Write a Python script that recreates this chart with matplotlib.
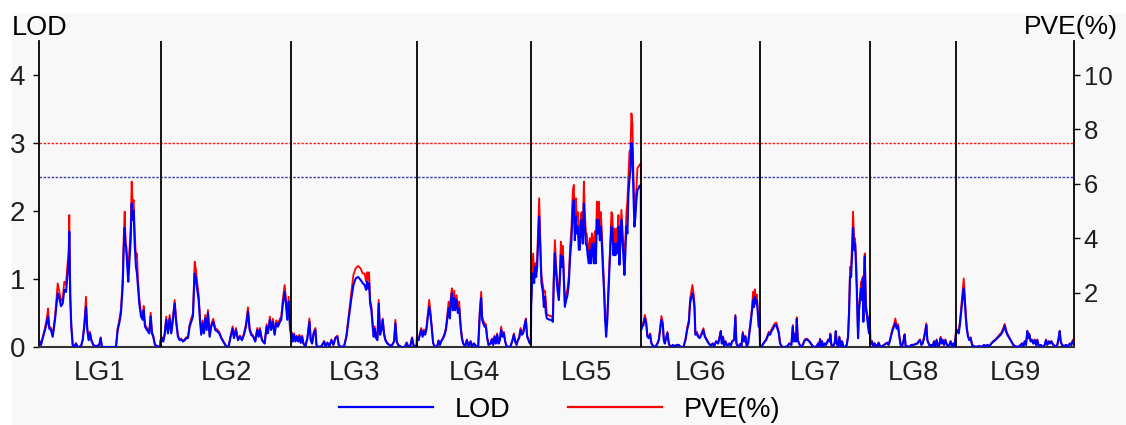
import numpy as np
import matplotlib
matplotlib.use("Agg")
import matplotlib.pyplot as plt
from matplotlib.patches import Rectangle
from matplotlib.lines import Line2D

plt.rcParams["font.family"] = ["Liberation Sans", "DejaVu Sans"]

# linkage groups and their lengths (cM)
lg_names = ["LG1", "LG2", "LG3", "LG4", "LG5", "LG6", "LG7", "LG8", "LG9"]
lg_lengths = [122, 130.5, 125.5, 114.3, 110, 119, 110.3, 85.7, 118]

# thresholds (LOD)
thr_red = 3.0
thr_blue = 2.5

# LG1
lg1_cm = [0, 2, 3.7, 6, 8, 9, 10.3, 12, 13.7, 16, 18.7, 20.3, 22, 23.7, 25.3, 27, 28.7, 29.7, 30.3, 31.3,
          32.3, 33.7, 35.3, 37, 38.7, 42, 43.7, 45.3, 47, 48.3, 49.7, 51, 52.3, 54.3, 57, 60.3, 61.7, 63, 77, 78.7,
          80.3, 82, 83.7, 84.7, 85.7, 86.3, 87.3, 88.3, 89.3, 90.3, 91.7, 92.7, 93.7, 94.7, 95.7, 97, 98, 99, 100.3, 102,
          103.7, 104.7, 106, 108, 110.3, 111.7, 113, 114.3, 116, 118.7, 121, 121.8]
lg1_lod = [0.10, 0.03, 0.13, 0.25, 0.37, 0.45, 0.27, 0.25, 0.15, 0.40, 0.79, 0.72, 0.60, 0.64, 0.84, 0.81, 1.08, 1.28, 1.70, 0.69,
           0.30, 0.03, 0.00, 0.05, 0.00, 0.01, 0.10, 0.30, 0.59, 0.25, 0.10, 0.20, 0.10, 0.03, 0.01, 0.03, 0.13, 0.00, 0.00, 0.25,
           0.35, 0.50, 0.89, 1.43, 1.75, 1.52, 1.47, 1.18, 0.96, 1.23, 1.57, 2.11, 1.87, 2.01, 1.52, 1.18, 1.08, 0.89, 0.64, 0.45,
           0.40, 0.54, 0.30, 0.25, 0.20, 0.45, 0.20, 0.15, 0.03, 0.01, 0.00, 0.10]
lg1_pve = [0.28, 0.08, 0.36, 0.70, 1.10, 1.42, 0.76, 0.70, 0.42, 1.12, 2.34, 2.05, 1.70, 1.80, 2.40, 2.30, 3.14, 3.50, 4.85, 1.95,
           0.84, 0.08, 0.00, 0.14, 0.00, 0.03, 0.28, 0.84, 1.85, 0.70, 0.28, 0.56, 0.28, 0.08, 0.03, 0.08, 0.36, 0.00, 0.00, 0.70,
           0.98, 1.40, 2.50, 4.00, 4.98, 4.25, 3.50, 3.30, 2.70, 3.45, 4.40, 6.08, 5.25, 5.40, 4.25, 3.30, 3.44, 2.50, 1.80, 1.26,
           1.12, 1.51, 0.84, 0.70, 0.56, 1.26, 0.56, 0.42, 0.08, 0.03, 0.00, 0.28]

# LG2
lg2_cm = [0, 1, 2.3, 3.7, 5.3, 7, 8.7, 10.3, 12, 13.7, 15.3, 17, 18.7, 20.3, 22, 23.7, 25.3, 27, 28.7, 30.3,
          32, 33.7, 35, 36.3, 37.7, 39, 40.3, 41.7, 43, 44.3, 45.7, 47, 48.7, 50.3, 52.3, 54.3, 56.3, 58.3, 60.3, 62.3,
          64.3, 66.3, 67.7, 69.7, 71.7, 73, 75, 77, 79, 81, 83, 85, 87, 88.7, 90.3, 92.3, 94.3, 96.3, 97.7, 99,
          101, 103.7, 105.7, 107, 109, 110.3, 112, 113.7, 115.3, 117, 119, 120.3, 122, 123.7, 125, 126.3, 127.7, 129, 130.3]
lg2_lod = [0.08, 0.13, 0.08, 0.18, 0.40, 0.20, 0.42, 0.20, 0.40, 0.64, 0.35, 0.15, 0.10, 0.11, 0.08, 0.10, 0.13, 0.13, 0.30, 0.37,
           0.45, 1.08, 1.01, 0.84, 0.69, 0.40, 0.18, 0.35, 0.20, 0.42, 0.25, 0.50, 0.15, 0.30, 0.37, 0.25, 0.23, 0.20, 0.13, 0.08,
           0.03, 0.00, 0.01, 0.15, 0.27, 0.13, 0.25, 0.10, 0.15, 0.10, 0.18, 0.30, 0.52, 0.25, 0.18, 0.15, 0.08, 0.25, 0.15, 0.25,
           0.10, 0.05, 0.30, 0.20, 0.40, 0.25, 0.37, 0.18, 0.35, 0.30, 0.37, 0.40, 0.64, 0.81, 0.64, 0.40, 0.67, 0.30, 0.15]
lg2_pve = [0.22, 0.36, 0.22, 0.50, 1.12, 0.56, 1.18, 0.56, 1.12, 1.73, 0.98, 0.42, 0.28, 0.31, 0.22, 0.28, 0.36, 0.36, 0.84, 1.04,
           1.26, 3.14, 2.85, 2.35, 1.93, 1.12, 0.50, 0.98, 0.56, 1.18, 0.70, 1.36, 0.42, 0.84, 1.04, 0.70, 0.64, 0.56, 0.36, 0.22,
           0.08, 0.00, 0.03, 0.42, 0.76, 0.36, 0.70, 0.28, 0.42, 0.28, 0.50, 0.84, 1.46, 0.70, 0.50, 0.42, 0.22, 0.70, 0.42, 0.70,
           0.28, 0.14, 0.84, 0.56, 1.12, 0.70, 1.04, 0.50, 0.98, 0.84, 1.04, 1.12, 1.79, 2.28, 1.79, 1.12, 1.85, 0.84, 0.42]

# LG3
lg3_cm = [0, 1.3, 2.7, 4, 5.3, 6.7, 8, 9.3, 10.7, 12, 14, 16, 18, 19.3, 20.7, 22.3, 24, 25, 26.7, 30,
          32.7, 34, 36, 38, 40, 42, 44, 46, 47.3, 49.3, 52.7, 55, 56.7, 58.7, 60, 62, 64.3, 66.7, 69, 71.3,
          73.3, 74.7, 75.7, 76.7, 77.7, 78.7, 80, 81.3, 82.3, 83.3, 84.7, 86, 87.3, 88.7, 90, 91.3, 92.7, 94, 96, 98,
          100, 102.7, 104, 105.3, 106.7, 110, 113.3, 115.3, 116.7, 118.7, 120.7, 122, 124, 125.3]
lg3_lod = [0.20, 0.08, 0.18, 0.08, 0.15, 0.08, 0.16, 0.06, 0.15, 0.05, 0.01, 0.13, 0.37, 0.10, 0.05, 0.20, 0.25, 0.03, 0.00, 0.01,
           0.08, 0.01, 0.06, 0.01, 0.10, 0.03, 0.13, 0.15, 0.03, 0.00, 0.01, 0.15, 0.35, 0.57, 0.72, 0.91, 1.01, 1.03, 0.99, 0.94,
           0.91, 0.84, 0.96, 0.86, 0.94, 0.64, 0.54, 0.30, 0.15, 0.27, 0.13, 0.10, 0.64, 0.18, 0.25, 0.40, 0.18, 0.10, 0.05, 0.03,
           0.01, 0.08, 0.35, 0.08, 0.03, 0.00, 0.00, 0.06, 0.01, 0.00, 0.13, 0.03, 0.00, 0.03]
lg3_pve = [0.56, 0.22, 0.50, 0.22, 0.42, 0.22, 0.45, 0.17, 0.42, 0.14, 0.03, 0.36, 1.05, 0.28, 0.14, 0.56, 0.70, 0.08, 0.00, 0.03,
           0.22, 0.03, 0.17, 0.03, 0.28, 0.08, 0.36, 0.42, 0.08, 0.00, 0.03, 0.42, 0.98, 1.60, 2.05, 2.65, 2.90, 2.98, 2.90, 2.70,
           2.70, 2.40, 2.75, 2.45, 2.75, 1.73, 1.51, 0.84, 0.42, 0.76, 0.36, 0.28, 1.73, 0.50, 0.70, 1.05, 0.50, 0.28, 0.14, 0.08,
           0.03, 0.22, 1.00, 0.22, 0.08, 0.00, 0.00, 0.17, 0.03, 0.00, 0.36, 0.08, 0.00, 0.08]

# LG4
lg4_cm = [0, 1.7, 3, 4.3, 5.7, 7, 8.3, 9.7, 11, 12.3, 13.7, 15, 16.3, 18.3, 20.3, 21.7, 23, 24.3, 26.3, 27.7,
          29, 30.3, 31.7, 33, 34, 35, 36, 37.3, 38.3, 39.7, 41, 42.3, 43.7, 45, 46.3, 48.3, 50, 51.7, 53.7, 55,
          57, 59.3, 61.3, 63, 64.3, 65.3, 66.3, 67.7, 69, 70.3, 71.7, 73.7, 75, 76.3, 77.7, 79, 80.3, 81.7, 83, 84.3,
          85.7, 87, 88.3, 89.7, 91.7, 93.7, 95.7, 97, 98.3, 99.7, 101, 102.3, 103.7, 105, 106.3, 107.7, 109, 110.3, 111.7, 113,
          114]
lg4_lod = [0.13, 0.10, 0.18, 0.25, 0.15, 0.23, 0.18, 0.27, 0.45, 0.59, 0.45, 0.25, 0.05, 0.00, 0.01, 0.09, 0.03, 0.08, 0.13, 0.18,
           0.25, 0.40, 0.57, 0.42, 0.67, 0.79, 0.54, 0.72, 0.54, 0.69, 0.50, 0.57, 0.30, 0.13, 0.05, 0.01, 0.10, 0.01, 0.08, 0.01,
           0.05, 0.01, 0.00, 0.50, 0.72, 0.40, 0.35, 0.30, 0.30, 0.13, 0.03, 0.05, 0.11, 0.03, 0.15, 0.05, 0.18, 0.05, 0.10, 0.25,
           0.15, 0.20, 0.08, 0.01, 0.00, 0.01, 0.10, 0.18, 0.08, 0.03, 0.10, 0.13, 0.25, 0.18, 0.20, 0.30, 0.40, 0.15, 0.10, 0.05,
           0.04]
lg4_pve = [0.36, 0.28, 0.50, 0.70, 0.42, 0.64, 0.50, 0.76, 1.26, 1.73, 1.26, 0.70, 0.14, 0.00, 0.03, 0.25, 0.08, 0.22, 0.36, 0.50,
           0.70, 1.12, 1.67, 1.18, 1.88, 2.16, 1.51, 2.07, 1.51, 1.91, 1.40, 1.67, 0.84, 0.36, 0.14, 0.03, 0.28, 0.03, 0.22, 0.03,
           0.14, 0.03, 0.00, 1.40, 2.03, 1.12, 0.98, 0.87, 0.84, 0.36, 0.08, 0.14, 0.31, 0.08, 0.42, 0.14, 0.50, 0.14, 0.28, 0.75,
           0.42, 0.56, 0.22, 0.03, 0.00, 0.03, 0.28, 0.50, 0.22, 0.08, 0.28, 0.36, 0.70, 0.50, 0.56, 0.84, 1.05, 0.42, 0.28, 0.14,
           0.11]

# LG5
lg5_cm = [0, 1, 2, 3, 4, 5, 6, 7, 8, 9, 10.3, 11.7, 12.7, 13.7, 14.7, 15.7, 17, 18.7, 20.3, 21.7,
          22.7, 23.7, 25, 26.3, 27.7, 28.7, 29.7, 30.7, 31.7, 32.7, 33.7, 35, 36.3, 37.7, 39, 40.3, 41.7, 42.7, 43.7, 44.7,
          45.7, 46.7, 47.7, 48.7, 49.7, 50.7, 51.7, 52.7, 53.7, 54.7, 55.7, 56.7, 57.7, 58.7, 59.7, 60.7, 61.7, 62.7, 63.7, 64.7,
          65.7, 66.7, 67.7, 68.7, 69.7, 70.7, 71.7, 73, 74, 75, 76, 77, 78.3, 79.3, 80.3, 81.3, 82.3, 83.3, 84.3, 85.3,
          86.3, 87.3, 88.3, 89.3, 90.3, 91.3, 92.3, 93.3, 94.3, 95.3, 96.3, 97.3, 98.3, 99.3, 100.3, 101.3, 102.3, 103.3, 104.3, 105.3,
          106.3, 107.3, 108.3, 109.7]
lg5_lod = [0.59, 0.99, 1.08, 0.94, 1.18, 1.03, 1.18, 1.57, 1.92, 1.48, 0.94, 0.81, 0.59, 0.74, 0.50, 0.42, 0.41, 0.40, 0.40, 0.37,
           0.99, 1.38, 1.08, 0.84, 0.69, 0.99, 1.35, 1.18, 1.33, 0.99, 0.59, 0.69, 0.76, 0.94, 1.33, 1.57, 2.06, 2.16, 1.57, 1.92,
           1.67, 1.77, 1.43, 1.43, 1.87, 1.77, 1.52, 2.11, 1.77, 1.52, 1.48, 1.33, 1.23, 1.43, 1.23, 1.52, 1.43, 1.23, 1.52, 1.23,
           1.87, 1.67, 1.87, 1.57, 1.77, 1.52, 1.18, 0.79, 0.40, 0.15, 0.35, 0.69, 1.13, 1.48, 1.77, 1.72, 1.35, 1.52, 1.35, 1.52,
           1.38, 1.77, 1.21, 1.57, 1.87, 1.57, 1.33, 1.06, 1.43, 1.77, 1.67, 2.26, 2.46, 2.60, 3.00, 2.90, 2.26, 1.77, 1.92, 2.16,
           2.31, 2.33, 2.37, 2.38]
lg5_pve = [1.65, 2.77, 3.44, 2.63, 3.08, 2.88, 3.30, 4.40, 5.47, 4.14, 2.63, 2.27, 2.03, 2.07, 1.73, 1.18, 1.18, 1.14, 1.14, 1.04,
           2.77, 3.93, 3.02, 2.35, 1.93, 2.77, 3.87, 3.30, 3.72, 2.77, 1.65, 1.93, 2.13, 2.63, 3.72, 4.40, 5.77, 5.96, 4.40, 5.47,
           4.68, 4.96, 4.00, 4.00, 4.91, 4.96, 4.26, 6.08, 4.96, 4.26, 4.14, 3.72, 3.44, 4.00, 3.44, 4.18, 4.00, 3.44, 4.26, 3.44,
           5.34, 4.68, 5.34, 4.40, 4.96, 4.26, 3.30, 2.21, 1.12, 0.75, 0.98, 1.93, 3.16, 4.14, 4.96, 4.85, 3.78, 4.36, 3.78, 4.36,
           3.86, 4.85, 3.39, 4.36, 5.04, 4.40, 3.72, 3.08, 4.00, 4.96, 5.40, 6.33, 7.18, 7.28, 8.59, 8.22, 6.33, 5.04, 5.38, 5.83,
           6.57, 6.63, 6.69, 6.75]

# LG6
lg6_cm = [0, 1, 2.3, 3.7, 5, 6.3, 7.7, 9, 10.3, 12.3, 14.3, 16.3, 17.7, 19, 20.3, 21.7, 22.7, 23.7, 25, 26.3,
          27.7, 29, 30.3, 31.7, 33.7, 35.7, 37.7, 39.7, 42.3, 44.3, 46.3, 47.7, 49, 50.3, 51.3, 52.3, 53.3, 54.3, 55.7, 57,
          58.7, 60.3, 62.3, 63.7, 65.7, 67.7, 69.7, 71.7, 73, 75, 77, 78.7, 79.7, 80.7, 82, 83, 84.3, 85.7, 87, 88.3,
          89.7, 91, 93, 94.3, 95.3, 97, 99, 100.3, 101.7, 103, 104.3, 105.7, 107, 108.3, 109.7, 111, 112, 113, 113.7, 114.7,
          115.7, 116.7, 117.7, 118.3]
lg6_lod = [0.25, 0.30, 0.32, 0.42, 0.35, 0.15, 0.13, 0.18, 0.05, 0.01, 0.00, 0.05, 0.10, 0.25, 0.40, 0.32, 0.10, 0.05, 0.13, 0.20,
           0.05, 0.01, 0.00, 0.03, 0.01, 0.03, 0.03, 0.00, 0.00, 0.10, 0.27, 0.35, 0.64, 0.74, 0.79, 0.72, 0.59, 0.18, 0.20, 0.15,
           0.13, 0.18, 0.25, 0.15, 0.10, 0.05, 0.02, 0.05, 0.01, 0.08, 0.05, 0.15, 0.23, 0.05, 0.14, 0.00, 0.08, 0.03, 0.03, 0.05,
           0.02, 0.08, 0.10, 0.45, 0.05, 0.00, 0.04, 0.01, 0.20, 0.08, 0.15, 0.01, 0.05, 0.20, 0.37, 0.54, 0.69, 0.59, 0.74, 0.64,
           0.69, 0.50, 0.30, 0.42]
lg6_pve = [0.70, 0.84, 0.90, 1.18, 0.98, 0.42, 0.36, 0.50, 0.14, 0.03, 0.00, 0.14, 0.28, 0.70, 1.14, 0.90, 0.28, 0.14, 0.36, 0.56,
           0.14, 0.03, 0.00, 0.08, 0.03, 0.08, 0.08, 0.00, 0.00, 0.28, 0.76, 0.98, 1.79, 2.07, 2.28, 2.02, 1.65, 0.50, 0.56, 0.42,
           0.36, 0.50, 0.69, 0.42, 0.28, 0.14, 0.06, 0.14, 0.03, 0.22, 0.14, 0.42, 0.60, 0.14, 0.39, 0.00, 0.22, 0.08, 0.08, 0.14,
           0.06, 0.22, 0.28, 1.18, 0.14, 0.00, 0.11, 0.03, 0.56, 0.22, 0.42, 0.03, 0.14, 0.56, 1.04, 1.51, 2.03, 1.65, 2.12, 1.79,
           1.93, 1.40, 0.84, 1.24]

# LG7
lg7_cm = [0, 1.3, 3.3, 4.7, 6, 7.3, 8.7, 10, 11.3, 13, 14.7, 16.3, 17.3, 18.7, 20, 22, 24.7, 27.3, 29.3, 31.3,
          32.7, 33.7, 35, 36, 36.7, 37.7, 39, 40.7, 42.7, 44.7, 46.7, 48.7, 50.7, 52.7, 54.7, 56.7, 58, 59, 60, 61,
          62, 63, 64.7, 66, 68, 69.3, 70.3, 71.3, 73, 74.7, 75.7, 76.7, 78, 79.3, 80.7, 82, 83.3, 84.7, 86.7, 88,
          89, 90, 91, 92, 93, 94, 95, 96, 97, 98, 99, 100, 101, 102, 102.7, 103.3, 104, 104.7, 105.3, 106,
          107, 108, 109, 109.7]
lg7_lod = [0.00, 0.00, 0.05, 0.08, 0.10, 0.15, 0.20, 0.18, 0.23, 0.27, 0.32, 0.32, 0.27, 0.20, 0.05, 0.00, 0.00, 0.01, 0.05, 0.03,
           0.30, 0.08, 0.18, 0.08, 0.41, 0.10, 0.05, 0.00, 0.03, 0.10, 0.11, 0.09, 0.05, 0.01, 0.00, 0.01, 0.05, 0.01, 0.11, 0.01,
           0.08, 0.00, 0.05, 0.03, 0.10, 0.08, 0.18, 0.03, 0.01, 0.06, 0.23, 0.05, 0.01, 0.14, 0.01, 0.08, 0.00, 0.00, 0.03, 0.15,
           0.50, 1.03, 1.03, 1.35, 1.75, 1.43, 1.52, 1.18, 0.69, 0.13, 0.54, 0.69, 0.86, 0.69, 1.01, 0.37, 0.99, 1.33, 0.89, 0.54,
           0.45, 0.30, 0.20, 0.45]
lg7_pve = [0.00, 0.00, 0.14, 0.22, 0.28, 0.42, 0.56, 0.50, 0.64, 0.76, 0.87, 0.90, 0.76, 0.56, 0.14, 0.00, 0.00, 0.03, 0.14, 0.08,
           0.81, 0.22, 0.50, 0.22, 1.09, 0.28, 0.14, 0.00, 0.08, 0.28, 0.31, 0.25, 0.14, 0.03, 0.00, 0.03, 0.14, 0.03, 0.31, 0.03,
           0.22, 0.00, 0.14, 0.08, 0.28, 0.22, 0.50, 0.08, 0.03, 0.17, 0.59, 0.14, 0.03, 0.39, 0.03, 0.22, 0.00, 0.00, 0.08, 0.42,
           1.40, 2.95, 2.88, 3.78, 4.98, 4.00, 4.00, 3.30, 1.93, 0.36, 1.51, 1.93, 2.41, 1.93, 2.59, 1.04, 2.77, 3.44, 2.49, 1.51,
           1.26, 0.84, 0.56, 1.18]

# LG8
lg8_cm = [0, 1.7, 3, 4.3, 5.7, 7.3, 8.3, 9.7, 11.7, 13.7, 15.7, 17, 18.3, 19.7, 21, 22.3, 23.7, 25, 26.3, 27.7,
          29, 30.3, 31.7, 33, 34.3, 35.3, 37, 39, 41, 43, 45, 47, 48.3, 49.7, 51, 52.3, 53.7, 55, 56, 57,
          58.3, 59.7, 61, 62.3, 63.7, 65, 66.3, 67.7, 69, 70.3, 71.3, 72.3, 73.7, 75, 76.3, 77.7, 79, 80.3, 81.7, 83,
          84.3]
lg8_lod = [0.03, 0.08, 0.01, 0.05, 0.01, 0.03, 0.06, 0.01, 0.01, 0.03, 0.05, 0.06, 0.03, 0.10, 0.18, 0.25, 0.30, 0.35, 0.27, 0.30,
           0.15, 0.03, 0.01, 0.08, 0.18, 0.01, 0.01, 0.00, 0.03, 0.03, 0.04, 0.05, 0.08, 0.10, 0.03, 0.05, 0.13, 0.23, 0.32, 0.10,
           0.05, 0.01, 0.03, 0.01, 0.08, 0.01, 0.10, 0.01, 0.03, 0.13, 0.05, 0.10, 0.03, 0.10, 0.04, 0.01, 0.03, 0.08, 0.01, 0.05,
           0.01]
lg8_pve = [0.08, 0.22, 0.03, 0.14, 0.03, 0.08, 0.17, 0.03, 0.03, 0.08, 0.14, 0.17, 0.08, 0.28, 0.50, 0.70, 0.84, 1.05, 0.76, 0.84,
           0.42, 0.08, 0.03, 0.22, 0.48, 0.03, 0.03, 0.00, 0.08, 0.08, 0.11, 0.14, 0.22, 0.28, 0.08, 0.14, 0.36, 0.64, 0.87, 0.28,
           0.14, 0.03, 0.08, 0.03, 0.22, 0.03, 0.28, 0.03, 0.08, 0.38, 0.14, 0.28, 0.08, 0.28, 0.11, 0.03, 0.08, 0.22, 0.03, 0.14,
           0.03]

# LG9
lg9_cm = [0, 1.3, 2.7, 4, 5.3, 6.7, 7.7, 8.7, 9.7, 10.7, 12, 13.3, 14.7, 16, 18, 20, 22, 24, 26, 28,
          29.3, 31.3, 33.3, 35.3, 37.3, 39.3, 41.3, 43.3, 45.3, 47.3, 48.7, 50, 51.3, 53.3, 55.3, 57.3, 59.3, 61.3, 63.3, 64.7,
          66, 67.3, 68.7, 70, 71.3, 72.3, 73.3, 74.7, 76, 77.3, 78.7, 80, 81.3, 82.7, 84.7, 86.7, 88.7, 90, 91.3, 92.7,
          94, 95.3, 97.3, 99.3, 101.3, 102.7, 103.7, 104.7, 106, 108, 110, 112, 114, 115.3, 116.7]
lg9_lod = [0.20, 0.23, 0.20, 0.35, 0.54, 0.74, 0.86, 0.69, 0.45, 0.27, 0.15, 0.10, 0.13, 0.03, 0.01, 0.00, 0.01, 0.01, 0.00, 0.03,
           0.01, 0.03, 0.01, 0.05, 0.08, 0.10, 0.13, 0.16, 0.19, 0.25, 0.31, 0.23, 0.18, 0.13, 0.08, 0.03, 0.01, 0.00, 0.01, 0.03,
           0.05, 0.01, 0.08, 0.03, 0.23, 0.13, 0.18, 0.08, 0.10, 0.05, 0.10, 0.03, 0.10, 0.01, 0.03, 0.00, 0.03, 0.10, 0.03, 0.08,
           0.05, 0.08, 0.03, 0.01, 0.03, 0.13, 0.23, 0.08, 0.03, 0.01, 0.03, 0.01, 0.05, 0.03, 0.08]
lg9_pve = [0.63, 0.64, 0.56, 0.98, 1.51, 2.07, 2.52, 1.93, 1.26, 0.76, 0.42, 0.28, 0.36, 0.08, 0.03, 0.00, 0.03, 0.03, 0.00, 0.08,
           0.03, 0.08, 0.03, 0.14, 0.22, 0.28, 0.36, 0.45, 0.53, 0.70, 0.85, 0.64, 0.50, 0.36, 0.22, 0.08, 0.03, 0.00, 0.03, 0.08,
           0.14, 0.03, 0.22, 0.08, 0.60, 0.36, 0.50, 0.22, 0.28, 0.14, 0.28, 0.08, 0.28, 0.03, 0.08, 0.00, 0.08, 0.28, 0.08, 0.22,
           0.14, 0.22, 0.08, 0.03, 0.08, 0.36, 0.60, 0.22, 0.08, 0.03, 0.08, 0.03, 0.14, 0.08, 0.26]

all_cm = [lg1_cm, lg2_cm, lg3_cm, lg4_cm, lg5_cm, lg6_cm, lg7_cm, lg8_cm, lg9_cm]
all_lod = [lg1_lod, lg2_lod, lg3_lod, lg4_lod, lg5_lod, lg6_lod, lg7_lod, lg8_lod, lg9_lod]
all_pve = [lg1_pve, lg2_pve, lg3_pve, lg4_pve, lg5_pve, lg6_pve, lg7_pve, lg8_pve, lg9_pve]

# put the groups one after another on a single x axis
offsets = np.concatenate([[0], np.cumsum(lg_lengths)])
x = np.concatenate([offsets[i] + np.array(c) for i, c in enumerate(all_cm)])
lod = np.concatenate(all_lod)
pve = np.concatenate(all_pve)
centers = (offsets[:-1] + offsets[1:]) / 2

txt = "#231f20"
bg = "#f8f8f8"

fig = plt.figure(figsize=(11.26, 4.25), dpi=100)
fig.add_artist(Rectangle((12 / 1126, 0), 1, 412 / 425, transform=fig.transFigure,
                         facecolor=bg, edgecolor="none", zorder=-10))

ax = fig.add_axes([39 / 1126, 78 / 425, 1035 / 1126, 306 / 425])
ax2 = ax.twinx()
ax.set_zorder(ax2.get_zorder() + 1)
ax.patch.set_visible(False)
ax2.set_facecolor(bg)

ax2.plot(x, pve, color="#ff0000", lw=1.3)
ax.plot(x, lod, color="#0000ff", lw=1.5, zorder=3)

# threshold lines
ax.axhline(thr_red, color="#ff1a1a", lw=1.0, ls=(0, (1.8, 1.1)), zorder=1)
ax.axhline(thr_blue, color="#3a3aa8", lw=1.0, ls=(0, (1.8, 1.1)), zorder=1)
for b in offsets[1:-1]:
    ax.axvline(b, color="black", lw=1.3, zorder=5)

ax.set_xlim(0, offsets[-1])
ax.set_ylim(0, 4.5)
ax2.set_ylim(0, 11.25)
ax.set_yticks([0, 1, 2, 3, 4])
ax2.set_yticks([2, 4, 6, 8, 10])
ax.set_xticks(centers)
ax.set_xticklabels(lg_names, fontsize=19.5, color=txt)
ax.tick_params(axis="x", length=0, pad=9)
ax.tick_params(axis="y", direction="out", length=4, width=1, labelsize=20, labelcolor=txt, pad=6)
ax2.tick_params(axis="y", direction="out", length=4, width=1, labelsize=18.5, labelcolor=txt, pad=3)

for a in (ax, ax2):
    a.spines["top"].set_visible(False)
ax.spines["right"].set_visible(False)
ax2.spines["left"].set_visible(False)
ax.spines["left"].set_linewidth(1.3)
ax2.spines["right"].set_linewidth(1.3)
ax.spines["bottom"].set_color("#333333")
ax.spines["bottom"].set_linewidth(1.5)
ax2.spines["bottom"].set_visible(False)

fig.text(12 / 1126, 390 / 425, "LOD", fontsize=19.5, color="black", ha="left", va="baseline")
fig.text(1118 / 1126, 391 / 425, "PVE(%)", fontsize=19, color="black", ha="right", va="baseline")

handles = [Line2D([], [], color="#0000ff", lw=1.6), Line2D([], [], color="#ff0000", lw=1.6)]
fig.legend(handles, ["LOD", "PVE(%)"], loc="center", bbox_to_anchor=(0.497, 0.036), ncol=2,
           frameon=False, fontsize=19.5, handlelength=3.5, handletextpad=0.8, columnspacing=2.1)

fig.savefig("out.png", dpi=100)
